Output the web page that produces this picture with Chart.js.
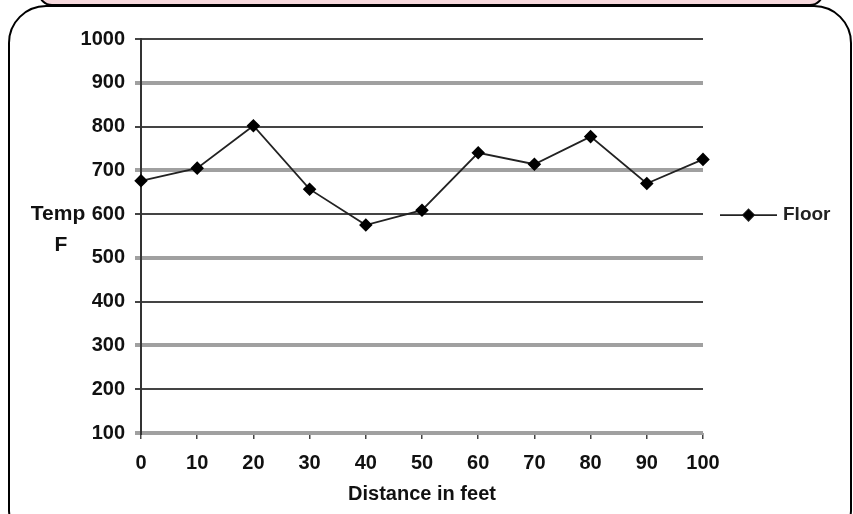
<!DOCTYPE html>
<html lang="en">
<head>
<meta charset="UTF-8">
<title>Floor Temperature by Distance</title>
<style>
  body {
    margin: 0;
    padding: 0;
    background: #fff;
    overflow: hidden;
  }

  .page {
    position: relative;
    width: 853px;
    height: 514px;
    overflow: hidden;
    background: #fff;
  }

  .frame {
    position: absolute;
    left: 8px;
    top: 5px;
    width: 840px;
    height: 540px;
    border: 2.5px solid #000;
    border-radius: 38px;
    pointer-events: none;
  }

  .top-band {
    position: absolute;
    left: 38px;
    top: -40px;
    width: 782px;
    height: 42px;
    background: #f6d8dc;
    border: 2.5px solid #000;
    border-radius: 0 0 14px 14px;
    pointer-events: none;
  }

  canvas {
    position: absolute;
    left: 0;
    top: 0;
  }
</style>
<script src="https://cdn.jsdelivr.net/npm/chart.js"></script>
</head>
<body>

<div class="page">
  <canvas id="chart-floor" width="853" height="514"></canvas>
  <div class="frame"></div>
  <div class="top-band"></div>
</div>

<script>
const distances = [0, 10, 20, 30, 40, 50, 60, 70, 80, 90, 100];
const floorTemps = [676, 705, 802, 657, 575, 609, 740, 714, 777, 670, 725];
const seriesName = 'Floor';
const yTitleLines = ['Temp', 'F'];
const xTitle = 'Distance in feet';

const fontFamily = 'Liberation Sans, Arial, sans-serif';
const labelFont = { family: fontFamily, size: 20, weight: 'bold' };

// y title sits to the left of the tick labels, not rotated
const sideTitle = {
  id: 'sideTitle',
  afterDraw(chart) {
    const ctx = chart.ctx;
    const mid = chart.scales.y.getPixelForValue(600);
    ctx.save();
    ctx.font = 'bold 21px ' + fontFamily;
    ctx.fillStyle = '#111';
    ctx.textAlign = 'center';
    ctx.textBaseline = 'middle';
    ctx.fillText(yTitleLines[0], 58, mid);
    ctx.fillText(yTitleLines[1], 61, mid + 31);
    ctx.restore();
  }
};

// legend with a line and a diamond marker, right of the plot
const sideLegend = {
  id: 'sideLegend',
  afterDraw(chart) {
    const ctx = chart.ctx;
    const ds = chart.data.datasets[0];
    const y = chart.scales.y.getPixelForValue(600) + 1;
    const x0 = 720, x1 = 777;
    ctx.save();
    ctx.strokeStyle = ds.borderColor;
    ctx.lineWidth = ds.borderWidth;
    ctx.beginPath();
    ctx.moveTo(x0, y);
    ctx.lineTo(x1, y);
    ctx.stroke();
    Chart.helpers.drawPoint(ctx, {
      pointStyle: 'rectRot',
      radius: ds.pointRadius,
      borderWidth: 1
    }, (x0 + x1) / 2, y);
    ctx.fillStyle = '#000';
    ctx.fill();
    ctx.font = 'bold 19px ' + fontFamily;
    ctx.fillStyle = '#222';
    ctx.textAlign = 'left';
    ctx.textBaseline = 'middle';
    ctx.fillText(ds.label, 783, y);
    ctx.restore();
  }
};

const floorData = {
  datasets: [{
    label: seriesName,
    data: distances.map((d, i) => ({ x: d, y: floorTemps[i] })),
    borderColor: '#222',
    borderWidth: 1.8,
    pointStyle: 'rectRot',
    pointRadius: 5.5,
    pointBackgroundColor: '#000',
    pointBorderColor: '#000',
    tension: 0,
    clip: false
  }]
};

const configFloor = {
  type: 'line',
  data: floorData,
  options: {
    responsive: false,
    animation: false,
    layout: {
      padding: { left: 0, right: 150, top: 39, bottom: 0 }
    },
    plugins: {
      legend: { display: false },
      tooltip: { enabled: false }
    },
    scales: {
      x: {
        type: 'linear',
        min: 0,
        max: 100,
        afterFit(scale) { scale.height = 81; },
        ticks: {
          stepSize: 10,
          color: '#111',
          font: labelFont,
          padding: 12,
          maxRotation: 0,
          callback: (v) => String(v)
        },
        grid: {
          drawOnChartArea: false,
          drawTicks: true,
          tickLength: 6,
          color: '#444',
          lineWidth: 1.5
        },
        border: { display: false },
        title: {
          display: true,
          text: xTitle,
          color: '#111',
          font: { family: fontFamily, size: 20, weight: 'bold' },
          padding: { top: 0, bottom: 8 }
        }
      },
      y: {
        min: 100,
        max: 1000,
        afterFit(scale) { scale.width = 141; },
        ticks: {
          stepSize: 100,
          color: '#111',
          font: labelFont,
          padding: 10,
          callback: (v) => String(v)
        },
        grid: {
          tickLength: 6,
          color: (c) => c.tick.value % 200 === 0 ? '#444' : '#a0a0a0',
          lineWidth: (c) => c.tick.value % 200 === 0 ? 2 : 4
        },
        border: { display: true, color: '#333', width: 2 }
      }
    }
  },
  plugins: [sideTitle, sideLegend]
};

window.onload = function() {
  const ctxFloor = document.getElementById('chart-floor').getContext('2d');
  new Chart(ctxFloor, configFloor);
};
</script>
</body>
</html>
